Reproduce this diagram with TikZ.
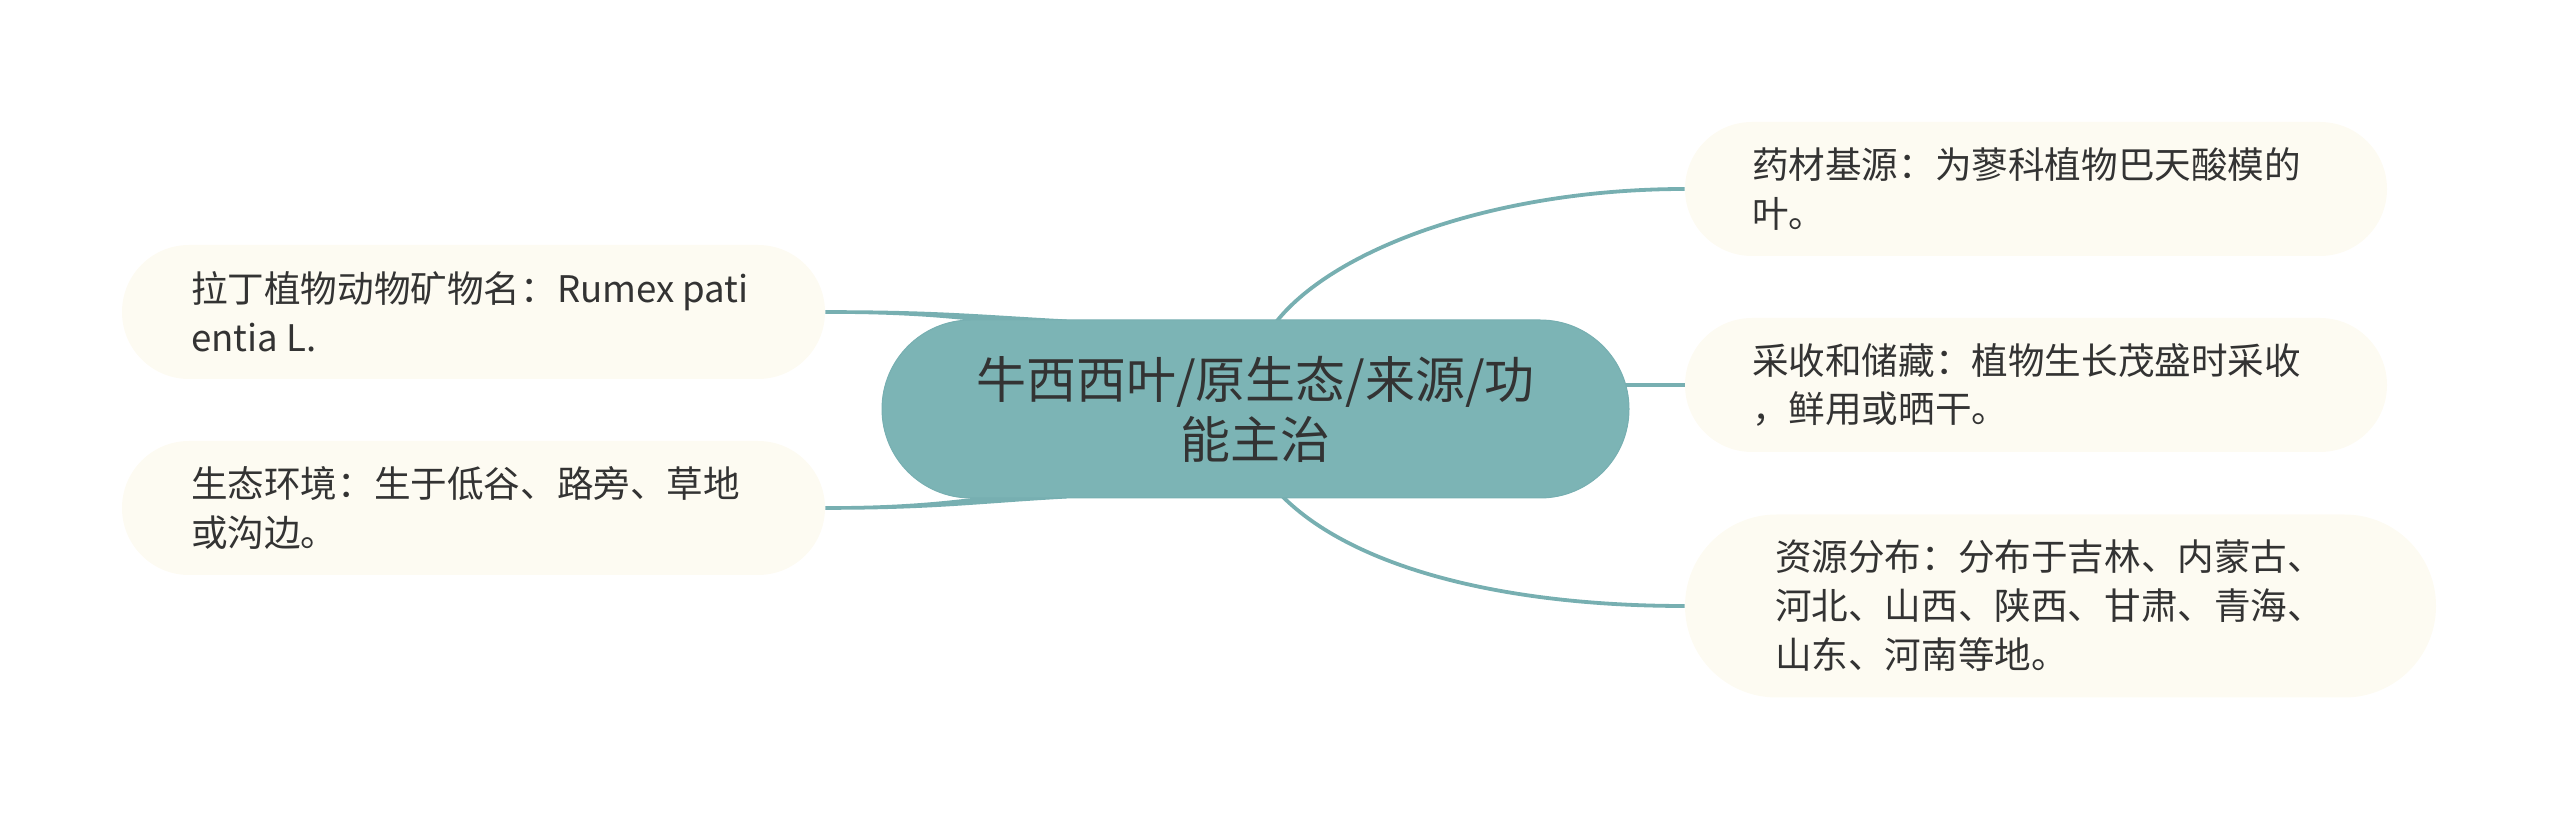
\documentclass[tikz,border=0pt]{standalone}
\usepackage{fontspec}
\setmainfont{Noto Sans CJK SC}
\usetikzlibrary{calc}
\usetikzlibrary{backgrounds}

\definecolor{hubteal}{HTML}{7CB4B5}
\definecolor{linkteal}{HTML}{77AFB1}
\definecolor{leafcream}{HTML}{FDFBF2}
\definecolor{inkgray}{HTML}{333333}

\begin{document}
\begin{tikzpicture}[x=0.5pt,y=0.5pt,
  hub/.style={fill=hubteal, draw=linkteal, line width=0.5pt, rounded corners=44.5pt,
    minimum width=373.5pt, minimum height=89pt, inner sep=0pt, align=center,
    text=inkgray, font=\fontsize{25pt}{30pt}\selectfont},
  leaf/.style={fill=leafcream, minimum height=67pt, rounded corners=33.5pt, inner sep=0pt},
  leaftext/.style={anchor=west, inner sep=0pt, align=left, text=inkgray,
    font=\fontsize{18.3pt}{24.5pt}\selectfont},
  link/.style={draw=linkteal, line width=1.9pt}]

\useasboundingbox (0,0) rectangle (2560,819);

\coordinate (H) at (1255.5,410);
\coordinate (L1) at (473.5,507);
\coordinate (L2) at (473.5,311);
\coordinate (R1) at (2036,630);
\coordinate (R2) at (2036,434);
\coordinate (R3) at (2060.5,213);

\node[hub] (hub) at (H) {牛西西叶/原生态/来源/功\\能主治};

\node[leaf, minimum width=351.5pt] (l1) at (L1) {};
\node[leaftext] (l1t) at ($(l1.west)+(69,0)$) {拉丁植物动物矿物名：Rumex pati\\entia L.};
\node[leaf, minimum width=351.5pt] (l2) at (L2) {};
\node[leaftext] (l2t) at ($(l2.west)+(69,0)$) {生态环境：生于低谷、路旁、草地\\或沟边。};

\node[leaf, minimum width=351pt] (r1) at (R1) {};
\node[leaftext] (r1t) at ($(r1.west)+(67,0)$) {药材基源：为蓼科植物巴天酸模的\\叶。};
\node[leaf, minimum width=351pt] (r2) at (R2) {};
\node[leaftext] (r2t) at ($(r2.west)+(67,0)$) {采收和储藏：植物生长茂盛时采收\\，鲜用或晒干。};
\node[leaf, minimum width=375.5pt, minimum height=91.5pt, rounded corners=45.75pt] (r3) at (R3) {};
\node[leaftext] (r3t) at ($(r3.west)+(90,0)$) {资源分布：分布于吉林、内蒙古、\\河北、山西、陕西、甘肃、青海、\\山东、河南等地。};

% branches behind the boxes
\begin{scope}[on background layer]
\draw[link] ($(hub.north west)+(395,-2)$) .. controls +(60,75) and +(-185,0) .. (r1.west);
\draw[link] ($(hub.east |- r2.west)+(-8,0)$) -- (r2.west);
\draw[link] ($(hub.south west)+(401,2)$) .. controls +(70,-70) and +(-185,0) .. (r3.west);
\fill[linkteal] ($(l1.east)+(0,1.8)$) .. controls +(110,0) and +(-90,5) .. ($(hub.north west)+(185,0)$)
  -- ++(0,-12) .. controls +(-90,10) and +(110,0) .. ($(l1.east)+(0,-1.8)$) -- cycle;
\fill[linkteal] ($(l2.east)+(0,-1.8)$) .. controls +(110,0) and +(-90,-5) .. ($(hub.south west)+(185,0)$)
  -- ++(0,12) .. controls +(-90,-10) and +(110,0) .. ($(l2.east)+(0,1.8)$) -- cycle;
\end{scope}

\end{tikzpicture}
\end{document}
